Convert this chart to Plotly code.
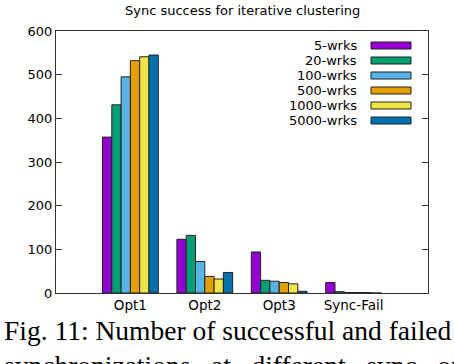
import plotly.graph_objects as go

# Data
categories = ["Opt1", "Opt2", "Opt3", "Sync-Fail"]
series_names = ["5-wrks", "20-wrks", "100-wrks", "500-wrks", "1000-wrks", "5000-wrks"]
wrks_5 = [357, 123, 94, 24]
wrks_20 = [431, 132, 29, 3]
wrks_100 = [495, 72, 27, 1]
wrks_500 = [532, 38, 24, 1]
wrks_1000 = [541, 32, 21, 1]
wrks_5000 = [545, 47, 4, 0]
y_ticks = [0, 100, 200, 300, 400, 500, 600]

colors = ["#9400D3", "#009E73", "#56B4E9", "#E69F00", "#F0E442", "#0072B2"]
all_series = [wrks_5, wrks_20, wrks_100, wrks_500, wrks_1000, wrks_5000]

SANS = "DejaVu Sans, Arial"
SERIF = "Liberation Serif, Times New Roman"

# plot area in pixels (left, right, top, bottom)
PL, PR, PT, PB = 56, 428, 31, 293
PW, PH = PR - PL, PB - PT

fig = go.Figure()

for name, vals, col in zip(series_names, all_series, colors):
    fig.add_trace(go.Bar(
        name=name, x=categories, y=vals,
        marker=dict(color=col, line=dict(color="#222222", width=1)),
        showlegend=False,
    ))

# gnuplot-style key: text on the left, colour box on the right
for i, (name, col) in enumerate(zip(series_names, colors)):
    ypos = 45.5 + i * 15.0
    fig.add_annotation(
        text=name, xref="paper", yref="paper",
        x=(359 - PL) / PW, y=1 - (ypos - PT) / PH,
        xanchor="right", yanchor="middle", showarrow=False,
        font=dict(family=SANS, size=13, color="black"),
    )
    fig.add_shape(
        type="rect", xref="paper", yref="paper",
        x0=(371 - PL) / PW, x1=(411 - PL) / PW,
        y0=1 - (ypos - PT - 3.5) / PH, y1=1 - (ypos - PT + 3.5) / PH,
        fillcolor=col, line=dict(color="#222222", width=1),
    )

# title
fig.add_annotation(
    text="Sync success for iterative clustering", xref="paper", yref="paper",
    x=(242 - PL) / PW, y=1, yshift=21, xanchor="center", yanchor="middle",
    showarrow=False, font=dict(family=SANS, size=13, color="black"),
)

# figure caption below the plot
fig.add_annotation(
    text="Fig. 11: Number of successful and failed", xref="paper", yref="paper",
    x=(2 - PL) / PW, y=0, yshift=-20, xanchor="left", yanchor="top",
    showarrow=False, font=dict(family=SERIF, size=27.5, color="black"),
)
fig.add_annotation(
    text="synchronizations\u00a0\u00a0 at\u00a0\u00a0 different\u00a0\u00a0 sync\u00a0\u00a0 op-",
    xref="paper", yref="paper",
    x=(2 - PL) / PW, y=0, yshift=-55, xanchor="left", yanchor="top",
    showarrow=False, font=dict(family=SERIF, size=27.5, color="black"),
)

fig.update_layout(
    width=454, height=364,
    margin=dict(l=PL, r=454 - PR, t=PT, b=364 - PB),
    paper_bgcolor="white", plot_bgcolor="white",
    barmode="group", bargap=0.25, bargroupgap=0,
    font=dict(family=SANS, size=13, color="black"),
    xaxis=dict(
        type="category", range=[-1, 4],
        showline=True, linecolor="#333333", linewidth=1, mirror=True,
        ticks="", showgrid=False, tickfont=dict(size=13.5),
    ),
    yaxis=dict(
        range=[0, 600], tickvals=y_ticks,
        showline=True, linecolor="#333333", linewidth=1, mirror="ticks",
        ticks="inside", ticklen=6, tickcolor="#333333",
        showgrid=False, zeroline=False, tickfont=dict(size=13),
    ),
)

fig.write_html("out.html", config={"displayModeBar": False},
               post_script="document.body.style.margin='0';")
